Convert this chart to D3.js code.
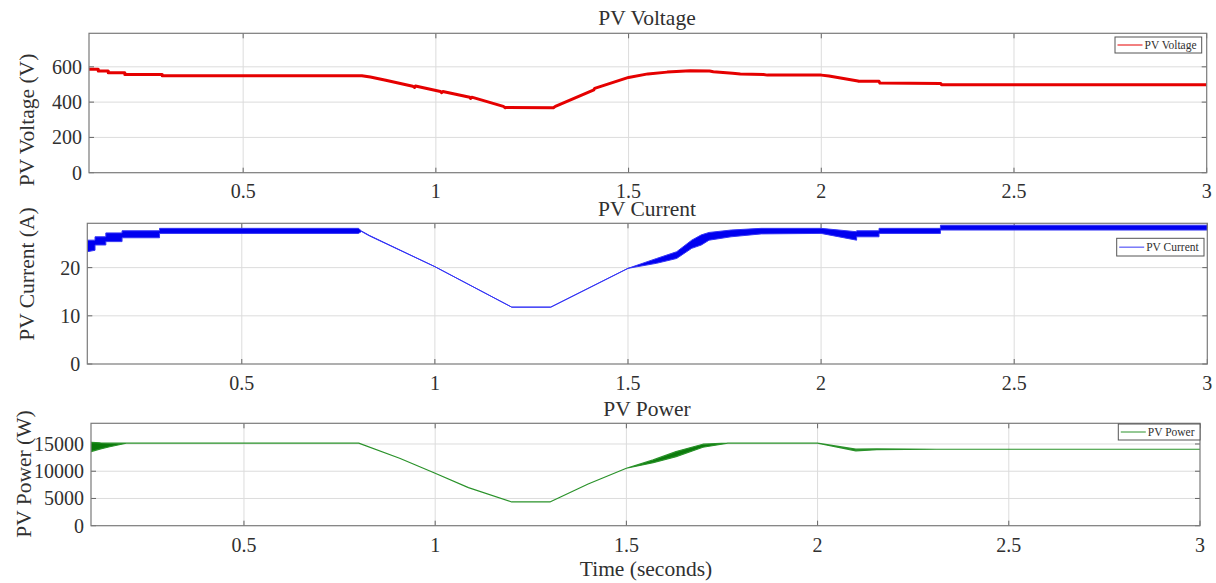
<!DOCTYPE html>
<html>
<head>
<meta charset="utf-8">
<script src="https://cdn.jsdelivr.net/npm/d3@7"></script>
<style>
  body { margin: 0; background: #fff; }
  text { font-family: "Liberation Serif", "Times New Roman", serif; fill: #303030; }
</style>
</head>
<body>
<svg id="chart" width="1216" height="583"></svg>
<script>
// ---- PV voltage (V) vs time (s) ----
const voltageTime  = [0.1, 0.124, 0.124, 0.15, 0.15, 0.193, 0.193, 0.29, 0.29, 0.808, 0.83, 0.87, 0.94, 0.945, 0.947,
                      1.012, 1.015, 1.018, 1.088, 1.09, 1.093, 1.175, 1.18, 1.183, 1.305, 1.31, 1.41, 1.412, 1.5, 1.55,
                      1.6, 1.66, 1.71, 1.72, 1.77, 1.79, 1.85, 1.86, 2.0, 2.02, 2.095, 2.097, 2.15, 2.152, 2.31, 2.312, 3.0];
const voltageValue = [586, 586, 576, 576, 567, 567, 557, 557, 550, 550, 542, 524, 490, 483, 491,
                      460, 453, 460, 428, 421, 428, 376, 368, 370, 368, 376, 470, 478, 540, 560,
                      570, 578, 576, 572, 564, 560, 556, 553, 553, 548, 520, 518, 518, 508, 506, 498, 498];

// ---- PV current (A): lower / upper envelope of the ripple ----
const currentTime = [0.1, 0.12, 0.12, 0.148, 0.148, 0.19, 0.19, 0.287, 0.287, 0.802, 0.81, 0.83, 1.0, 1.199, 1.3, 1.5,
                     1.574, 1.626, 1.665, 1.69, 1.71, 1.767, 1.845, 2.0, 2.092, 2.092, 2.15, 2.15, 2.309, 2.309, 3.0];
const currentLow  = [23.3, 23.6, 24.7, 24.7, 25.4, 25.4, 26.2, 26.2, 27.1, 27.1, 27.5, 26.6, 20.2, 11.8, 11.8, 19.85,
                     20.9, 21.9, 24.0, 24.7, 25.7, 26.4, 27.0, 27.1, 25.7, 26.4, 26.4, 27.1, 27.1, 27.8, 27.8];
const currentHigh = [25.7, 25.7, 26.4, 26.4, 27.2, 27.2, 27.65, 27.65, 28.15, 28.15, 27.6, 26.7, 20.2, 11.8, 11.8, 19.85,
                     21.9, 23.3, 25.7, 26.8, 27.3, 27.8, 28.15, 28.15, 27.45, 27.65, 27.65, 28.15, 28.15, 28.8, 28.8];

// ---- PV power (W): lower / upper envelope ----
const powerTime = [0.1, 0.125, 0.149, 0.192, 0.8, 0.907, 1.0, 1.087, 1.2, 1.3, 1.4, 1.5, 1.57, 1.63, 1.7, 1.765,
                   2.0, 2.1, 2.155, 2.31, 3.0];
const powerLow  = [13600, 14100, 14500, 15150, 15150, 12390, 9630, 6990, 4360, 4360, 7660, 10550, 11580, 12680, 14400, 15150,
                   15150, 13750, 13950, 14040, 14040];
const powerHigh = [15300, 15200, 15150, 15150, 15150, 12390, 9630, 6990, 4360, 4360, 7660, 10550, 12080, 13600, 14960, 15150,
                   15150, 14050, 14100, 14040, 14040];

// ---- axes ----
const timeDomain   = [0.1, 3];
const timeTicks    = [0.5, 1, 1.5, 2, 2.5, 3];
const voltageTicks = [0, 200, 400, 600];
const currentTicks = [0, 10, 20];
const powerTicks   = [0, 5000, 10000, 15000];

const svg = d3.select("#chart");

const panels = [
  { title: "PV Voltage", ylabel: "PV Voltage (V)", legend: "PV Voltage",
    box: { l: 89, r: 1206.7, t: 33.3, b: 172.7 }, yDomain: [0, 790], yTicks: voltageTicks,
    titleY: 25, tickY: 198, ylabelPos: [26, 120],
    legendBox: { x: 1115, y: 37, w: 86.7, h: 16 },
    color: "#e50000",
    series: { t: voltageTime, lo: voltageValue, hi: voltageValue }, lineW: 3, fill: "#e50000" },
  { title: "PV Current", ylabel: "PV Current (A)", legend: "PV Current",
    box: { l: 87.3, r: 1207.3, t: 223.3, b: 364 }, yDomain: [0, 29.2], yTicks: currentTicks,
    titleY: 216, tickY: 390, ylabelPos: [26, 274],
    legendBox: { x: 1116.7, y: 238.3, w: 87.3, h: 17.7 },
    color: "#3535f5",
    series: { t: currentTime, lo: currentLow, hi: currentHigh }, lineW: 1, fill: "#0000f0" },
  { title: "PV Power", ylabel: "PV Power (W)", legend: "PV Power",
    box: { l: 91, r: 1200, t: 423.3, b: 525.7 }, yDomain: [0, 18800], yTicks: powerTicks,
    titleY: 415.5, tickY: 551.5, ylabelPos: [23, 474],
    legendBox: { x: 1118.3, y: 424, w: 81.7, h: 16 },
    color: "#2a922a",
    series: { t: powerTime, lo: powerLow, hi: powerHigh }, lineW: 1.2, fill: "#0b7a0b" }
];

panels.forEach((p, i) => {
  const b = p.box;
  const x = d3.scaleLinear().domain(timeDomain).range([b.l, b.r]);
  const y = d3.scaleLinear().domain(p.yDomain).range([b.b, b.t]);
  const g = svg.append("g");

  // grid
  g.selectAll(".gx").data(timeTicks.filter(d => d < timeDomain[1])).join("line")
    .attr("x1", d => x(d)).attr("x2", d => x(d)).attr("y1", b.t).attr("y2", b.b)
    .attr("stroke", "#dcdcdc").attr("stroke-width", 1);
  g.selectAll(".gy").data(p.yTicks.filter(d => d > 0)).join("line")
    .attr("x1", b.l).attr("x2", b.r).attr("y1", d => y(d)).attr("y2", d => y(d))
    .attr("stroke", "#dcdcdc").attr("stroke-width", 1);

  // tick marks, inward on all four sides
  const tk = 5;
  timeTicks.forEach(d => {
    g.append("line").attr("x1", x(d)).attr("x2", x(d)).attr("y1", b.b).attr("y2", b.b - tk).attr("stroke", "#666");
    g.append("line").attr("x1", x(d)).attr("x2", x(d)).attr("y1", b.t).attr("y2", b.t + tk).attr("stroke", "#666");
  });
  p.yTicks.forEach(d => {
    g.append("line").attr("x1", b.l).attr("x2", b.l + tk).attr("y1", y(d)).attr("y2", y(d)).attr("stroke", "#666");
    g.append("line").attr("x1", b.r).attr("x2", b.r - tk).attr("y1", y(d)).attr("y2", y(d)).attr("stroke", "#666");
  });

  // data
  const clipId = "clip" + i;
  svg.append("clipPath").attr("id", clipId).append("rect")
    .attr("x", b.l).attr("y", b.t - 1).attr("width", b.r - b.l).attr("height", b.b - b.t + 1);
  const s = p.series;
  const idx = d3.range(s.t.length);
  if (i === 0) {
    const line = d3.line().x(k => x(s.t[k])).y(k => y(s.lo[k]));
    g.append("path").attr("clip-path", `url(#${clipId})`).attr("d", line(idx))
      .attr("fill", "none").attr("stroke", p.color).attr("stroke-width", p.lineW)
      .attr("stroke-linejoin", "round");
  } else {
    const area = d3.area().x(k => x(s.t[k])).y0(k => y(s.lo[k])).y1(k => y(s.hi[k]));
    g.append("path").attr("clip-path", `url(#${clipId})`).attr("d", area(idx))
      .attr("fill", p.fill).attr("stroke", p.color).attr("stroke-width", p.lineW)
      .attr("stroke-linejoin", "round");
  }

  // box
  g.append("rect").attr("x", b.l).attr("y", b.t).attr("width", b.r - b.l).attr("height", b.b - b.t)
    .attr("fill", "none").attr("stroke", "#7a7a7a").attr("stroke-width", 1.2);

  // tick labels
  g.selectAll(".tx").data(timeTicks).join("text")
    .attr("x", d => x(d)).attr("y", p.tickY).attr("text-anchor", "middle")
    .attr("font-size", 20).text(d => d3.format("")(d));
  g.selectAll(".ty").data(p.yTicks).join("text")
    .attr("x", b.l - 7).attr("y", d => y(d)).attr("dy", "0.35em").attr("text-anchor", "end")
    .attr("font-size", 20).text(d => d);

  // title
  g.append("text").attr("x", 647).attr("y", p.titleY).attr("text-anchor", "middle")
    .attr("font-size", 21.5).text(p.title);

  // y label
  g.append("text").attr("transform", `translate(${p.ylabelPos[0]},${p.ylabelPos[1]}) rotate(-90)`)
    .attr("text-anchor", "middle").attr("dy", "0.35em").attr("font-size", 21.5).text(p.ylabel);

  // legend
  const lb = p.legendBox;
  g.append("rect").attr("x", lb.x).attr("y", lb.y).attr("width", lb.w).attr("height", lb.h)
    .attr("fill", "#fff").attr("stroke", "#555").attr("stroke-width", 1);
  g.append("line").attr("x1", lb.x + 2.5).attr("x2", lb.x + 27.5)
    .attr("y1", lb.y + lb.h / 2).attr("y2", lb.y + lb.h / 2)
    .attr("stroke", p.color).attr("stroke-width", 1);
  g.append("text").attr("x", lb.x + 29.5).attr("y", lb.y + lb.h / 2).attr("dy", "0.35em")
    .attr("font-size", 11.5).attr("fill", "#222").text(p.legend);
});

// x axis title
svg.append("text").attr("x", 646).attr("y", 575.5).attr("text-anchor", "middle")
  .attr("font-size", 21.5).text("Time (seconds)");
</script>
</body>
</html>
